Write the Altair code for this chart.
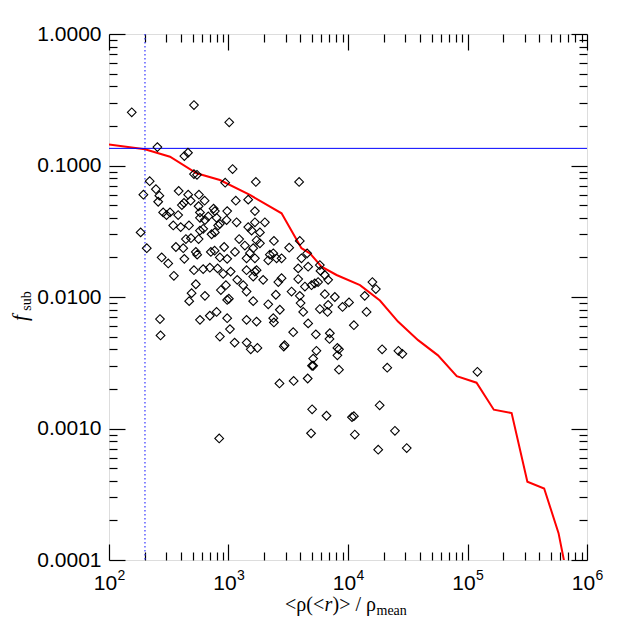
import altair as alt
import pandas as pd

# ---- scatter: <rho(<r)>/rho_mean  vs  f_sub (diamonds) ----
rho_ratio = [155, 514, 1014, 254, 427, 458, 1082, 514, 545, 938, 219, 194, 247, 264, 258, 383,
             460, 566, 482, 407, 424, 631, 562, 1151, 1462, 284, 324, 750, 769, 975, 577, 1694,
             3900, 1663, 303, 379, 577, 635, 677, 795, 847, 964, 1169, 1462, 577, 614, 769, 820,
             722, 184, 207, 276, 313, 349, 427, 363, 418, 440, 485, 562, 345, 398, 467, 533,
             547, 514, 614, 698, 811, 712, 765, 847, 920, 1133, 975, 903, 1042, 1228, 1371, 1416,
             1416, 1183, 1327, 533, 491, 469, 635, 863, 951, 975, 1007, 1416, 795, 698, 577, 267,
             975, 1028, 1416, 270, 847, 1125, 1419, 1535, 1746, 1663, 2015, 1560, 1832, 1718, 1832,
             1610, 1663, 1510, 2400, 3220, 3950, 4550, 4080, 2220, 2370, 2525, 2780, 2150, 1718,
             1663, 1950, 1610, 2610, 2780, 3830, 4640, 5810, 5890, 6400, 6820, 3830, 4360, 4950,
             5270, 5620, 3370, 3950, 2490, 6400, 7760, 2150, 2690, 1610, 4010, 4220, 5810, 6740,
             6820, 9000, 10200, 13800, 14300, 16000, 17100, 1718, 2370, 2400, 4640, 11200, 3480,
             5380, 7050, 7000, 2900, 2950, 5440, 5110, 5110, 5000, 8150, 8400, 8150, 8400, 2670,
             3510, 4600, 19300, 21300, 26400, 28500, 121000, 5010, 6610, 10800, 11200, 18400, 836,
             4910, 11400, 24700, 17900, 31000]
f_sub = [0.254, 0.288, 0.213, 0.138, 0.118, 0.125, 0.094, 0.086, 0.085, 0.074, 0.076, 0.060,
         0.066, 0.059, 0.053, 0.064, 0.060, 0.060, 0.054, 0.050, 0.052, 0.054, 0.049, 0.054,
         0.055, 0.044, 0.044, 0.047, 0.045, 0.045, 0.044, 0.075, 0.075, 0.045, 0.042, 0.042,
         0.040, 0.0385, 0.041, 0.040, 0.036, 0.0385, 0.037, 0.034, 0.032, 0.033, 0.031, 0.035,
         0.030, 0.031, 0.0235, 0.020, 0.018, 0.0145, 0.0195, 0.024, 0.0235, 0.0276, 0.028,
         0.0276, 0.035, 0.034, 0.035, 0.022, 0.021, 0.016, 0.0163, 0.0167, 0.0165, 0.022,
         0.0225, 0.020, 0.024, 0.022, 0.0195, 0.015, 0.0156, 0.0276, 0.0246, 0.0197, 0.016,
         0.0135, 0.0123, 0.0125, 0.0107, 0.0093, 0.0102, 0.0113, 0.0123, 0.0095, 0.0097, 0.011,
         0.0077, 0.0072, 0.0067, 0.0068, 0.0069, 0.0057, 0.0067, 0.0051, 0.0050, 0.0045, 0.0045,
         0.0040, 0.0041, 0.037, 0.037, 0.032, 0.031, 0.027, 0.0256, 0.0235, 0.0197, 0.0216,
         0.0267, 0.0237, 0.0267, 0.0215, 0.0197, 0.021, 0.0215, 0.0197, 0.0197, 0.019, 0.016,
         0.0156, 0.0135, 0.0143, 0.013, 0.0139, 0.0165, 0.017, 0.0175, 0.0158, 0.0147, 0.0135,
         0.0137, 0.012, 0.0123, 0.0127, 0.013, 0.011, 0.0102, 0.0104, 0.0105, 0.010, 0.0088,
         0.0080, 0.0093, 0.0090, 0.0077, 0.0081, 0.0077, 0.0087, 0.0084, 0.0091, 0.0102, 0.0077,
         0.013, 0.0115, 0.0065, 0.0069, 0.0064, 0.0063, 0.0061, 0.0054, 0.0052, 0.0053, 0.0048,
         0.0042, 0.0043, 0.0039, 0.0034, 0.0030, 0.0030, 0.0041, 0.0040, 0.0036, 0.0028, 0.0022,
         0.0023, 0.0024, 0.0040, 0.0029, 0.0039, 0.0037, 0.0027, 0.0014, 0.00125, 0.00122,
         0.00124, 0.0015, 0.00084, 0.00092, 0.00090, 0.00096, 0.00069, 0.00071]

# ---- red curve ----
line_rho = [100, 200, 324, 541, 847, 1510, 2780, 4080, 4800, 6000, 8020, 12600, 18500, 26200,
            38600, 56600, 81300, 119000, 166000, 234000, 317000, 438000, 578000, 644000]
line_f = [0.1445, 0.133, 0.1167, 0.0873, 0.0776, 0.0597, 0.0433, 0.0235, 0.0215, 0.017, 0.0147,
          0.0123, 0.0094, 0.0065, 0.0047, 0.0036, 0.0025, 0.00223, 0.00139, 0.00131, 0.000394,
          0.00035, 0.00016, 0.0000975]

# ---- reference lines ----
F_SUB_LEVEL = [0.135]
RHO_LEVEL = [200]

# ---- axis ticks ----
X_MAJOR = [1e2, 1e3, 1e4, 1e5, 1e6]
X_MINOR = [m * 10 ** e for e in range(2, 6) for m in range(2, 10)]
Y_MAJOR = [1e-4, 1e-3, 1e-2, 1e-1, 1.0]
Y_MINOR = [round(m * 10.0 ** e, 6) for e in range(-4, 0) for m in range(2, 10)]

pts = pd.DataFrame({"rho": rho_ratio, "f": f_sub})
curve = pd.DataFrame({"rho": line_rho, "f": line_f})
hline = pd.DataFrame({"f": F_SUB_LEVEL})
vline = pd.DataFrame({"rho": RHO_LEVEL})
one = pd.DataFrame({"k": [0]})

xs = alt.Scale(type="log", domain=[100, 1e6], nice=False)
ys = alt.Scale(type="log", domain=[1e-4, 1], nice=False)

SANS = "Liberation Sans"
SERIF = "Liberation Serif"


def ax(values, orient, size, **kw):
    opts = dict(values=values, orient=orient, tickSize={"expr": str(-size)}, labels=False,
                domain=False, grid=False, title=None, tickColor="#000000", tickWidth=1.2,
                tickOpacity=1)
    opts.update(kw)
    return alt.Axis(**opts)


x_major = ax(X_MAJOR, "bottom", 16, labels=True, labelExpr="'10'", labelFont=SANS,
             labelFontSize=21, labelFontWeight="normal", labelColor="black", labelPadding=28,
             labelOffset=-4, labelFlush=False, labelOverlap=False, labelBound=False)
y_major = ax(Y_MAJOR, "left", 16, labels=True, format=".4f", labelFont=SANS,
             labelFontSize=21, labelFontWeight="normal", labelColor="black", labelPadding=24,
             labelFlush=False, labelOverlap=False, labelBound=False)
x_exp = alt.Axis(values=X_MAJOR, orient="bottom", ticks=False, domain=False, grid=False,
                 title=None, labelExpr="'' + round(log(datum.value) / LN10)", labelFont=SANS,
                 labelFontSize=14, labelFontWeight="normal", labelColor="black",
                 labelPadding=8, labelOffset=12, labelFlush=False, labelOverlap=False,
                 labelBound=False)

points = alt.Chart(pts).mark_point(shape="diamond", filled=False, color="black", size=76,
                                   strokeWidth=1.1, opacity=1).encode(
    x=alt.X("rho:Q", scale=xs, axis=x_major),
    y=alt.Y("f:Q", scale=ys, axis=y_major),
)

red = alt.Chart(curve).mark_line(color="#ff0000", strokeWidth=2, clip=True).encode(
    x=alt.X("rho:Q", scale=xs, axis=ax(X_MINOR, "bottom", 8)),
    y=alt.Y("f:Q", scale=ys, axis=ax(Y_MINOR, "left", 8)),
)

carrier_major = alt.Chart(pts).mark_point(opacity=0).encode(
    x=alt.X("rho:Q", scale=xs, axis=ax(X_MAJOR, "top", 16)),
    y=alt.Y("f:Q", scale=ys, axis=ax(Y_MAJOR, "right", 16)),
)
carrier_minor = alt.Chart(pts).mark_point(opacity=0).encode(
    x=alt.X("rho:Q", scale=xs, axis=ax(X_MINOR, "top", 8)),
    y=alt.Y("f:Q", scale=ys, axis=ax(Y_MINOR, "right", 8)),
)
carrier_exp = alt.Chart(pts).mark_point(opacity=0).encode(
    x=alt.X("rho:Q", scale=xs, axis=x_exp),
    y=alt.Y("f:Q", scale=ys, axis=None),
)

blue_h = alt.Chart(hline).mark_rule(color="#0000ff", strokeWidth=1).encode(
    y=alt.Y("f:Q", scale=ys, axis=None)
)
blue_v = alt.Chart(vline).mark_rule(color="#3333ff", strokeWidth=1.2, strokeDash=[1.5, 2.5]).encode(
    x=alt.X("rho:Q", scale=xs, axis=None)
)


def label(text, x, y, size, font=SERIF, style="normal", angle=0, align="left",
          baseline="alphabetic"):
    return alt.Chart(one).mark_text(
        text=text, font=font, fontSize=size, fontStyle=style, angle=angle, align=align,
        baseline=baseline, color="black"
    ).encode(x=alt.value(x), y=alt.value(y))


titles = [
    label("<ρ(<", 176, 577, 20),
    label("r", 215.5, 577, 20, style="italic"),
    label(")> / ρ", 223.5, 577, 20),
    label("mean", 267.5, 581, 14),
    label("f", -82, 284, 21, style="italic", angle=270, align="center"),
    label("sub", -78, 267, 14, angle=270, align="center"),
]

chart = alt.layer(
    carrier_major, carrier_minor, carrier_exp, red, blue_h, blue_v, points, *titles
).resolve_axis(x="independent", y="independent").properties(
    width=478, height=526,
    autosize=alt.AutoSizeParams(type="none"),
    padding={"left": 101, "top": 26, "right": 34, "bottom": 61},
).configure_view(stroke="black", strokeWidth=1).configure(background="white")

chart.save("out.html", embed_options={"renderer": "svg", "actions": False})
